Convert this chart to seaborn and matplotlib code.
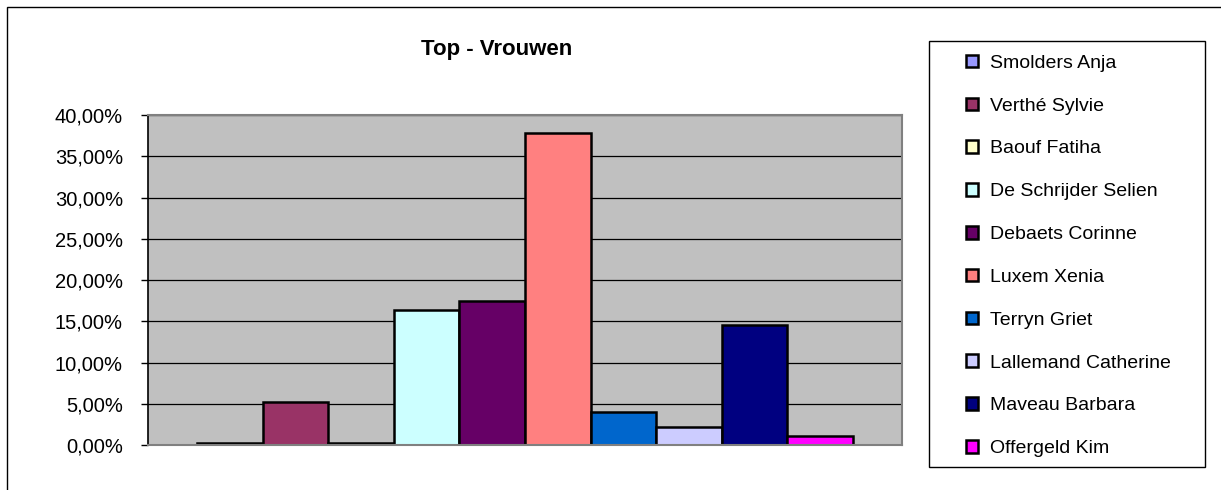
import pandas as pd
import seaborn as sns
import matplotlib.pyplot as plt
from matplotlib.patches import Rectangle
from matplotlib.ticker import FuncFormatter, MultipleLocator

# data
names = [
    "Smolders Anja",
    "Verthé Sylvie",
    "Baouf Fatiha",
    "De Schrijder Selien",
    "Debaets Corinne",
    "Luxem Xenia",
    "Terryn Griet",
    "Lallemand Catherine",
    "Maveau Barbara",
    "Offergeld Kim",
]
percent = [0.3, 5.2, 0.3, 16.4, 17.5, 37.8, 4.0, 2.2, 14.5, 1.1]
colors = ["#9999FF", "#993366", "#FFFFCC", "#CCFFFF", "#660066",
          "#FF8080", "#0066CC", "#CCCCFF", "#000080", "#FF00FF"]

df = pd.DataFrame({"groep": "Top", "naam": names, "pct": percent})

sns.set_style("white")
plt.rcParams["font.family"] = ["Liberation Sans", "DejaVu Sans"]
plt.rcParams["text.color"] = "black"
plt.rcParams["ytick.color"] = "black"

W, H = 1221, 490
fig = plt.figure(figsize=(W / 100, H / 100), dpi=100)
ax = fig.add_axes([148 / W, (H - 445) / H, 754 / W, 330 / H])

sns.barplot(data=df, x="groep", y="pct", hue="naam", hue_order=names,
            palette=colors, width=0.87, edgecolor="black", linewidth=1.8,
            saturation=1, ax=ax, legend=True)

ax.set_facecolor("#C0C0C0")
ax.set_ylim(0, 40)
ax.set_xlim(-0.5, 0.5)
ax.yaxis.set_major_locator(MultipleLocator(5))
ax.yaxis.set_major_formatter(FuncFormatter(lambda v, p: f"{v:.2f}%".replace(".", ",")))
ax.grid(axis="y", color="black", linewidth=0.9)
ax.set_axisbelow(True)
ax.set_xticks([])
ax.set_xlabel("")
ax.set_ylabel("")
ax.tick_params(axis="y", left=True, length=5, width=1, pad=13, labelsize=14.5,
               colors="black", labelcolor="black")
for s in ["top", "right", "bottom"]:
    ax.spines[s].set_color("#808080")
    ax.spines[s].set_linewidth(1.5)
ax.spines["left"].set_color("black")
ax.spines["left"].set_linewidth(1.2)

# legend
handles, labels = ax.get_legend_handles_labels()
ax.get_legend().remove()
fig.patches.append(Rectangle((929 / W, 1 - 467 / H), 276 / W, 426 / H,
                             transform=fig.transFigure, fill=False,
                             edgecolor="black", linewidth=1))
leg = fig.legend(handles, labels, loc="upper left",
                 bbox_to_anchor=(956 / W, 1 - 45 / H), frameon=False,
                 fontsize=14, handlelength=0.62, handleheight=0.62,
                 handletextpad=0.62, labelspacing=1.32, borderpad=0)
for h in leg.legend_handles:
    h.set_edgecolor("black")
    h.set_linewidth(1.8)
for t in leg.get_texts():
    t.set_color("black")

# outer chart border
fig.patches.append(Rectangle((7 / W, -0.1), 1.2, 1.1 - 7 / H,
                             transform=fig.transFigure, fill=False,
                             edgecolor="black", linewidth=1))

fig.text(497 / W, 1 - 49 / H, "Top - Vrouwen", ha="center", va="center",
         fontsize=16, fontweight="bold", color="black")

fig.savefig("out.png", dpi=100)
